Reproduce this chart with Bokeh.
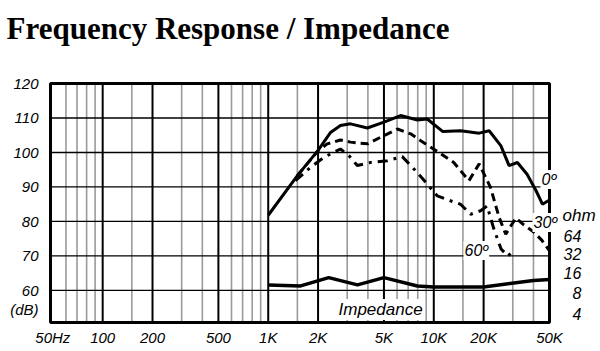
import math
from bokeh.plotting import figure
from bokeh.models import Range1d, FixedTicker, Label
from bokeh.embed import file_html
from bokeh.resources import INLINE

# ---------------- data ----------------
x_tick_values = [50, 100, 200, 500, 1000, 2000, 5000, 10000, 20000, 50000]
x_tick_labels = ["50Hz", "100", "200", "500", "1K", "2K", "5K", "10K", "20K", "50K"]
y_tick_values = [54.5, 60, 70, 80, 90, 100, 110, 120]
y_tick_labels = ["(dB)", "60", "70", "80", "90", "100", "110", "120"]

major_grid_freq = [100, 200, 500, 1000, 2000, 5000, 10000, 20000]
minor_grid_freq = [60, 70, 80, 90, 150, 300, 400, 600, 700, 800, 900,
                   1500, 3000, 4000, 6000, 7000, 8000, 9000, 15000, 30000, 40000]
h_grid_db = [60, 70, 80, 90, 100, 110]

freq_0deg = [1000, 1500, 2000, 2380, 2730, 3140, 3970, 5000, 6300, 7960, 9130,
             11300, 14500, 18800, 21600, 25400, 28500, 32000, 36600, 41500, 45300, 50000]
spl_0deg = [81.8, 93.3, 100.6, 105.8, 107.8, 108.3, 107.1, 108.8, 110.7, 109.4, 109.7,
            106.1, 106.3, 105.6, 106.3, 102.0, 96.2, 97.1, 93.7, 88.9, 85.0, 86.2]

freq_30deg = [1500, 2000, 2270, 2730, 3140, 3970, 4770, 6030, 7250, 8340, 10500,
              13200, 16300, 18800, 22000, 24800, 27200, 31300, 35000, 40000, 45000, 50000]
spl_30deg = [93.3, 100.5, 102.5, 103.6, 103.0, 102.5, 104.4, 106.8, 105.4, 103.4, 100.3,
             97.1, 91.8, 96.7, 89.9, 81.2, 76.3, 81.0, 79.0, 77.0, 74.5, 71.5]

freq_60deg = [1460, 1800, 2170, 2730, 3070, 3450, 4150, 5240, 6450, 7590, 8960,
              10500, 12600, 14500, 16700, 19200, 21000, 23000, 25500, 28000, 30500]
spl_60deg = [91.8, 95.7, 98.6, 101.0, 99.1, 96.2, 97.1, 97.6, 98.8, 95.2, 91.3,
             87.4, 86.0, 85.0, 82.1, 83.1, 84.5, 78.0, 72.0, 70.0, 71.5]

freq_imp = [1000, 1570, 2320, 3460, 5000, 7960, 10000, 20000, 40000, 50000]
imp_db = [61.6, 61.3, 63.7, 61.6, 63.7, 61.3, 61.0, 61.0, 62.9, 63.2]

ohm_labels = ["ohm", "64", "32", "16", "8", "4"]

# ---------------- layout helpers ----------------
F_MIN, F_MAX = 48.4, 50000.0      # chart box (left / right border)
DB_TOP = 120.0                     # chart box top border
CL, CR, CT, CB = 50, 549, 83, 322  # chart box in pixels
FL, FR, FT, FB = 0, 600, 0, 324    # plotting frame in pixels

PX_PER_DEC = (CR - CL) / math.log10(F_MAX / F_MIN)
PX_PER_DB = (CB - CT) / 69.3


def fx(px):
    return 10 ** (math.log10(F_MIN) + (px - CL) / PX_PER_DEC)


def fy(py):
    return DB_TOP - (py - CT) / PX_PER_DB


DB_BOTTOM = fy(CB)

p = figure(width=600, height=351, x_axis_type="log",
           x_range=Range1d(fx(FL), fx(FR)), y_range=Range1d(fy(FB), fy(FT)),
           output_backend="svg", toolbar_location=None,
           min_border_left=0, min_border_right=0,
           min_border_top=0, min_border_bottom=351 - FB)
p.background_fill_color = "white"
p.border_fill_color = "white"
p.outline_line_color = None
p.xgrid.visible = False
p.ygrid.visible = False

LABEL_FONT = "Liberation Sans"

# axes
for ax in (p.xaxis[0], p.yaxis[0]):
    ax.axis_line_color = None
    ax.major_tick_line_color = None
    ax.minor_tick_line_color = None
    ax.major_tick_out = 0
    ax.major_tick_in = 0
    ax.minor_tick_out = 0
    ax.minor_tick_in = 0
    ax.major_label_text_font = LABEL_FONT
    ax.major_label_text_font_style = "italic"
    ax.major_label_text_font_size = "15px"
    ax.major_label_text_color = "black"

p.xaxis.ticker = FixedTicker(ticks=x_tick_values)
p.xaxis.major_label_overrides = {v: l for v, l in zip(x_tick_values, x_tick_labels)}
p.xaxis.major_label_standoff = 4
p.yaxis.ticker = FixedTicker(ticks=y_tick_values)
p.yaxis.major_label_overrides = {v: l for v, l in zip(y_tick_values, y_tick_labels)}
p.yaxis.major_label_standoff = -38   # labels sit inside the canvas, left of the chart box

# grid lines, limited to the chart box
p.segment(x0=minor_grid_freq, x1=minor_grid_freq, y0=DB_BOTTOM, y1=DB_TOP,
          line_color="#9a9a9a", line_width=1.6)
p.segment(x0=F_MIN, x1=F_MAX, y0=h_grid_db, y1=h_grid_db,
          line_color="black", line_width=1.3)
p.segment(x0=major_grid_freq, x1=major_grid_freq, y0=DB_BOTTOM, y1=DB_TOP,
          line_color="black", line_width=2)

# chart box border
p.quad(left=[F_MIN], right=[F_MAX], bottom=[DB_BOTTOM], top=[DB_TOP],
       fill_color=None, line_color="black", line_width=3)

# curves
p.line(freq_0deg, spl_0deg, line_color="black", line_width=3)
p.line(freq_30deg, spl_30deg, line_color="black", line_width=3, line_dash="8 5")
p.line(freq_60deg, spl_60deg, line_color="black", line_width=3, line_dash="10 6 3 6")
p.line(freq_imp, imp_db, line_color="black", line_width=3.5)


def add_label(text, px, py, size="16px", align="left", bg=None,
              font=LABEL_FONT, style="italic"):
    lab = Label(x=fx(px), y=fy(py), text=text, text_align=align,
                text_baseline="alphabetic", text_font=font,
                text_font_style=style, text_font_size=size, text_color="black")
    if bg:
        lab.background_fill_color = bg
        lab.padding = 1
    p.add_layout(lab)


# title
add_label("Frequency Response / Impedance", 6, 28, size="31px",
          font="Liberation Serif", style="bold")

# curve labels
add_label("0º", 540, 179, bg="white")
add_label("30º", 532, 222, bg="white")
add_label("60º", 463, 250, bg="white")
add_label("Impedance", 337, 309, size="17px", bg="white")

ohm_px = [(562, 215), (563, 235), (563, 253), (563, 272), (572, 292), (572, 313)]
for t, (x, y) in zip(ohm_labels, ohm_px):
    add_label(t, x, y, size="17px" if t == "ohm" else "16px")

open("out.html", "w").write(file_html(p, INLINE))
